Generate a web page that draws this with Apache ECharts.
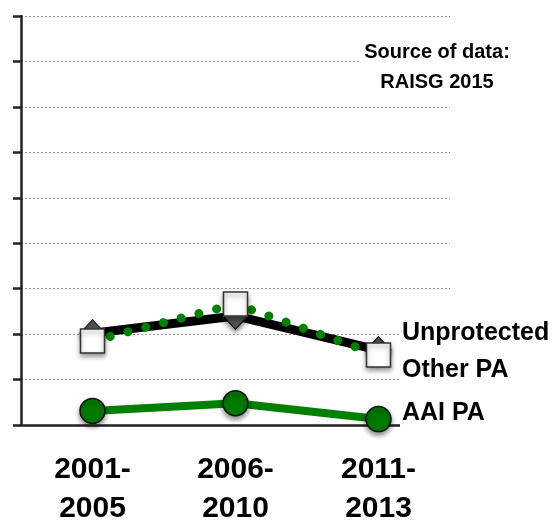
<!DOCTYPE html>
<html>
<head>
<meta charset="utf-8">
<script src="https://cdn.jsdelivr.net/npm/echarts@6/dist/echarts.min.js"></script>
<style>
  html, body { margin: 0; padding: 0; background: #fff; }
  #chart { width: 554px; height: 528px; }
</style>
</head>
<body>
<div id="chart"></div>
<script>
// periods on the x axis
var periods = ['2001-\n2005', '2006-\n2010', '2011-\n2013'];

// values (axis has no labels, 9 steps)
var unprotected = [2.02, 2.40, 1.65];
var otherPA = [1.85, 2.66, 1.54];
var aaiPA = [0.31, 0.48, 0.13];

var seriesNames = ['Unprotected', 'Other PA', 'AAI PA'];
var sourceNote = 'Source of data:\nRAISG 2015';

var chart = echarts.init(document.getElementById('chart'));

var markerShadow = {
    shadowBlur: 5,
    shadowColor: 'rgba(0,0,0,0.45)',
    shadowOffsetY: 3
};

function sideLabel(text, top, pad) {
    return {
        type: 'text',
        left: 400,
        top: top,
        z: 10,
        style: {
            text: text,
            fill: '#000',
            font: 'bold 25px "Liberation Sans"',
            backgroundColor: '#fff',
            padding: pad
        }
    };
}

chart.setOption({
    animation: false,
    grid: { left: 21, right: 104, top: 16, bottom: 103 },
    xAxis: {
        type: 'category',
        data: periods,
        boundaryGap: true,
        axisLine: { show: true, lineStyle: { color: '#222', width: 2.5 } },
        axisTick: { show: false },
        axisLabel: {
            margin: 25,
            color: '#000',
            fontFamily: 'Liberation Sans',
            fontWeight: 'bold',
            fontSize: 30,
            lineHeight: 39
        },
        splitLine: { show: false }
    },
    yAxis: {
        type: 'value',
        min: 0,
        max: 9,
        interval: 1,
        axisLine: { show: true, lineStyle: { color: '#222', width: 2.5 } },
        axisTick: { show: true, inside: false, length: 8, lineStyle: { color: '#222', width: 2.5 } },
        axisLabel: { show: false },
        splitLine: { show: true, lineStyle: { color: '#999', type: [2, 2], width: 1 } }
    },
    series: [
        {
            name: seriesNames[0],
            type: 'line',
            data: unprotected,
            z: 2,
            symbol: 'diamond',
            symbolSize: [25, 27],
            lineStyle: { color: '#000', width: 9 },
            itemStyle: Object.assign({ color: '#555', borderColor: '#111', borderWidth: 1 }, markerShadow)
        },
        {
            name: seriesNames[1],
            type: 'line',
            data: otherPA,
            z: 3,
            symbol: 'rect',
            symbolSize: 24,
            lineStyle: { color: '#008000', width: 9, type: [0.1, 18.2], cap: 'round' },
            itemStyle: Object.assign({ color: '#fff', borderColor: '#333', borderWidth: 1.5 }, markerShadow)
        },
        {
            name: seriesNames[2],
            type: 'line',
            data: aaiPA,
            z: 4,
            symbol: 'circle',
            symbolSize: 25,
            lineStyle: { color: '#008000', width: 8 },
            itemStyle: Object.assign({ color: '#007a00', borderColor: '#111', borderWidth: 1.5 }, markerShadow)
        }
    ],
    graphic: [
        {
            type: 'text',
            z: 10,
            style: {
                x: 437,
                y: 67,
                text: sourceNote,
                fill: '#000',
                font: 'bold 20px "Liberation Sans"',
                lineHeight: 30,
                align: 'center',
                verticalAlign: 'middle',
                backgroundColor: '#fff',
                padding: [0, 4]
            }
        },
        sideLabel(seriesNames[0], 321, [0, 4, 0, 2]),
        sideLabel(seriesNames[1], 358, [0, 4, 0, 2]),
        sideLabel(seriesNames[2], 401, [0, 4, 3, 2])
    ]
});
</script>
</body>
</html>
